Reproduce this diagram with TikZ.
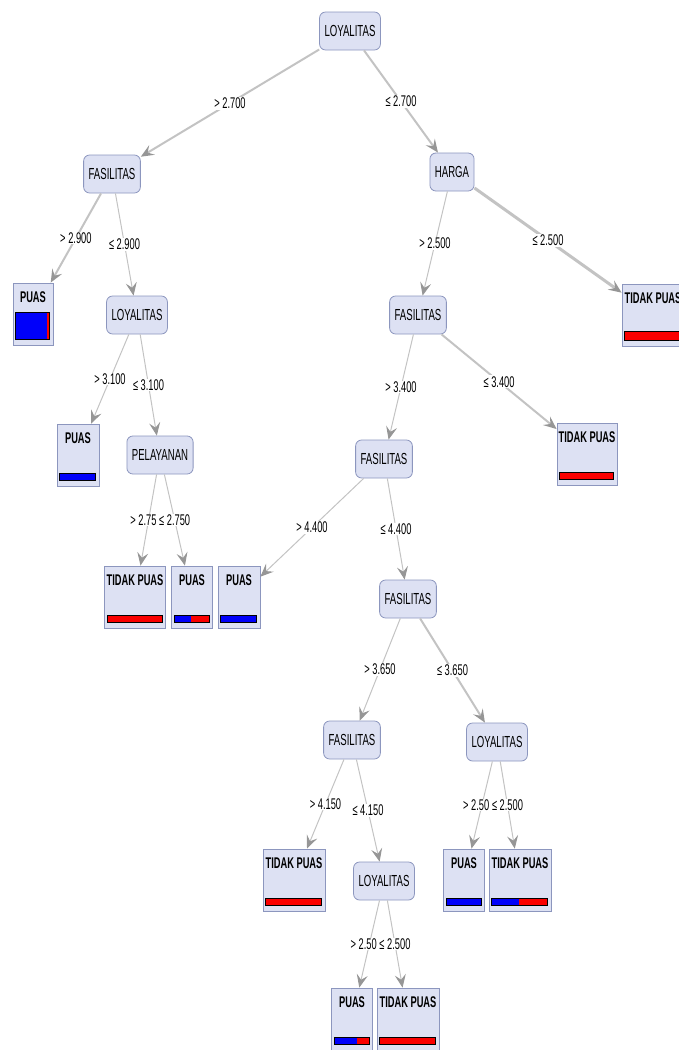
\documentclass[tikz,border=0pt]{standalone}
\usepackage{fontspec}
\setmainfont{Liberation Sans}[FakeStretch=0.6]
\usetikzlibrary{arrows.meta}
\definecolor{nodefill}{RGB}{221,225,243}
\definecolor{nodeline}{RGB}{140,150,190}
\definecolor{edgegray}{RGB}{195,195,195}
\definecolor{tipgray}{RGB}{150,150,150}
\definecolor{barblue}{RGB}{0,0,250}
\definecolor{barred}{RGB}{250,0,0}

% leaf: name, x, y, width, text, blue part, bar height
\newcommand{\leafnode}[7]{%
  \node[leaf,minimum width=#4] (#1) at (#2,#3) {};
  \node[leaftext] (#1t) at ([yshift=-15pt]#1.north) {#5};
  \fill[barred] ([xshift=3pt,yshift=6pt]#1.south west) rectangle ++({#4-6},-#7);
  \fill[barblue] ([xshift=3pt,yshift=6pt]#1.south west) rectangle ++({#6*(#4-6)},-#7);
  \draw[line width=1.2pt] ([xshift=3pt,yshift=6pt]#1.south west) rectangle ++({#4-6},-#7);
}

\begin{document}
\begin{tikzpicture}[x=1pt,y=-1pt,
    split/.style={draw=nodeline,fill=nodefill,rounded corners=6pt,line width=0.8pt,
      minimum height=38pt,inner xsep=5pt,font=\fontsize{16}{18}\selectfont},
    leaf/.style={draw=nodeline,fill=nodefill,line width=0.8pt,minimum height=62pt,inner sep=1pt},
    leaftext/.style={font=\fontsize{15.5}{18}\selectfont\bfseries,inner sep=0pt},
    cond/.style={fill=white,inner sep=1pt,font=\fontsize{15.5}{18}\selectfont},
    edge/.style={draw=edgegray,line width=1pt,
      -{Stealth[length=13pt,width=11pt,inset=5pt,fill=tipgray,color=tipgray]}}]
  \useasboundingbox (0,0) rectangle (678,1050);

  \node[split] (loy) at (350,31) {LOYALITAS};
  \node[split] (fas) at (112,174) {FASILITAS};
  \node[split] (harga) at (452,172) {HARGA};
  \node[split] (loyb) at (137,315) {LOYALITAS};
  \node[split] (fasb) at (418,315) {FASILITAS};
  \node[split] (pel) at (160,455) {PELAYANAN};
  \node[split] (fasc) at (384,459) {FASILITAS};
  \node[split] (fasd) at (408,599) {FASILITAS};
  \node[split] (fase) at (352,740) {FASILITAS};
  \node[split] (loyc) at (497,742) {LOYALITAS};
  \node[split] (loyd) at (384,881) {LOYALITAS};

  \leafnode{puasa}{33}{314}{40}{PUAS}{0.93}{27}
  \leafnode{tidaka}{653}{315}{62}{TIDAK PUAS}{0}{9}
  \leafnode{puasb}{78}{455}{42}{PUAS}{1}{7}
  \leafnode{tidakb}{587}{454}{60}{TIDAK PUAS}{0}{7}
  \leafnode{tidakc}{135}{597}{61}{TIDAK PUAS}{0}{7}
  \leafnode{puasc}{192}{597}{41}{PUAS}{0.49}{7}
  \leafnode{puasd}{239}{597}{42}{PUAS}{1}{7}
  \leafnode{tidakd}{294}{880}{62}{TIDAK PUAS}{0}{7}
  \leafnode{puase}{464}{880}{41}{PUAS}{1}{7}
  \leafnode{tidake}{520}{880}{62}{TIDAK PUAS}{0.49}{7}
  \leafnode{puasf}{352}{1019}{41}{PUAS}{0.65}{7}
  \leafnode{tidakf}{408}{1019}{62}{TIDAK PUAS}{0}{7}

  \draw[edge,line width=2pt] (loy) -- node[cond] {> 2.700} (fas);
  \draw[edge,line width=2pt] (loy) -- node[cond] {≤ 2.700} (harga);
  \draw[edge,line width=2pt] (fas) -- node[cond] {> 2.900} (puasa);
  \draw[edge] (fas) -- node[cond] {≤ 2.900} (loyb);
  \draw[edge] (harga) -- node[cond] {> 2.500} (fasb);
  \draw[edge,line width=3pt] (harga) -- node[cond] {≤ 2.500} (tidaka);
  \draw[edge] (loyb) -- node[cond] {> 3.100} (puasb);
  \draw[edge] (loyb) -- node[cond] {≤ 3.100} (pel);
  \draw[edge] (fasb) -- node[cond] {> 3.400} (fasc);
  \draw[edge,line width=2pt] (fasb) -- node[cond] {≤ 3.400} (tidakb);
  \draw[edge] (pel) -- (tidakc);
  \draw[edge] (pel) -- node[cond] (pelr) {≤ 2.750} (puasc);
  \node[cond,anchor=east] at (pelr.west) {> 2.75};
  \draw[edge] (fasc) -- node[cond] {> 4.400} (puasd);
  \draw[edge] (fasc) -- node[cond] {≤ 4.400} (fasd);
  \draw[edge] (fasd) -- node[cond] {> 3.650} (fase);
  \draw[edge,line width=2pt] (fasd) -- node[cond] {≤ 3.650} (loyc);
  \draw[edge] (fase) -- node[cond] {> 4.150} (tidakd);
  \draw[edge] (fase) -- node[cond] {≤ 4.150} (loyd);
  \draw[edge] (loyc) -- (puase);
  \draw[edge] (loyc) -- node[cond] (loycr) {≤ 2.500} (tidake);
  \node[cond,anchor=east] at (loycr.west) {> 2.50};
  \draw[edge] (loyd) -- (puasf);
  \draw[edge] (loyd) -- node[cond] (loydr) {≤ 2.500} (tidakf);
  \node[cond,anchor=east] at (loydr.west) {> 2.50};
\end{tikzpicture}
\end{document}
